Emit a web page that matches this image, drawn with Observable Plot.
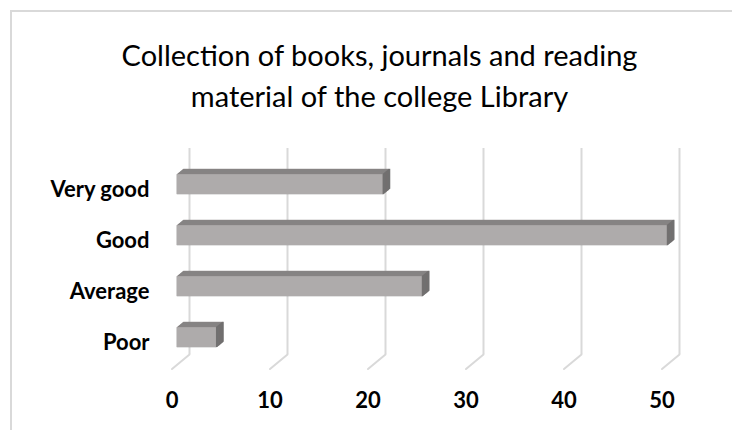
<!DOCTYPE html>
<html><head><meta charset="utf-8">
<script src="https://cdn.jsdelivr.net/npm/d3@7"></script>
<script src="https://cdn.jsdelivr.net/npm/@observablehq/plot@0.6"></script>
<style>
body{margin:0;background:#fff}
#wrap{position:relative;width:732px;height:430px;overflow:hidden}
#border{position:absolute;left:10px;top:10px;width:760px;height:460px;border-top:2px solid #d9d9d9;border-left:2px solid #d9d9d9;pointer-events:none}
</style>
</head><body><div id="wrap"><div id="border"></div></div>
<script>
const titleLines = ["Collection of books, journals and reading", "material of the college Library"];
const categories = ["Very good", "Good", "Average", "Poor"];
const values = [21, 50, 25, 4];
const xTicks = [0, 10, 20, 30, 40, 50];

const data = categories.map((c, i) => ({category: c, value: values[i]}));

// 3D depth offsets (pixels) from back plane to front plane
const DX = -17.5, DY = 14.5;
const barBack = 0.33, barFront = 0.70;
const steps = d3.range(0, 17).map(i => barBack + (barFront - barBack) * i / 16);
const off = f => ({dx: DX * f, dy: DY * f});
const lineShape = {draw(context, l) { context.moveTo(0, 0); context.lineTo(0, -l); }};

const font = "Lato, 'Open Sans', sans-serif";
const grid = "#d9d9d9";
const frontColor = "#aeabab", topColor = "#878484", sideColor = "#727070";

const chart = Plot.plot({
  width: 732, height: 430,
  marginLeft: 189, marginRight: 53, marginTop: 148, marginBottom: 76,
  x: {domain: [0, 50], axis: null},
  y: {domain: categories, axis: null, paddingInner: 0.6, paddingOuter: 0.3},
  style: {fontFamily: font, background: "transparent"},
  marks: [
    Plot.ruleX(xTicks, {x: d => d, stroke: grid, strokeWidth: 2}),
    Plot.vector(xTicks, {x: d => d, frameAnchor: "bottom", anchor: "start",
      length: Math.hypot(DX, DY), rotate: Math.atan2(DX, -DY) * 180 / Math.PI,
      shape: lineShape, stroke: grid, strokeWidth: 2}),
    ...steps.map(f => Plot.barX(data, {x: "value", y: "category", fill: topColor, ...off(f)})),
    ...steps.map(f => Plot.tickX(data, {x: "value", y: "category", stroke: sideColor, strokeWidth: 1.5, ...off(f)})),
    Plot.barX(data, {x: "value", y: "category", fill: frontColor, ...off(barFront)}),
    Plot.text(data, {y: "category", text: "category", frameAnchor: "left", textAnchor: "end", lineAnchor: "middle",
      dx: -40, dy: 15, fontSize: 22, fontWeight: "bold", fill: "#000"}),
    Plot.text(xTicks, {x: d => d, text: d => String(d), frameAnchor: "bottom", lineAnchor: "middle",
      dx: DX, dy: 46, fontSize: 22, fontWeight: "bold", fill: "#000"}),
    Plot.text([titleLines[0]], {text: d => d, frameAnchor: "top", lineAnchor: "middle", dx: -55, dy: -92, fontSize: 29, fill: "#000"}),
    Plot.text([titleLines[1]], {text: d => d, frameAnchor: "top", lineAnchor: "middle", dx: -55, dy: -51, fontSize: 29, fill: "#000"})
  ]
});
document.getElementById("wrap").appendChild(chart);
</script>
</body></html>
